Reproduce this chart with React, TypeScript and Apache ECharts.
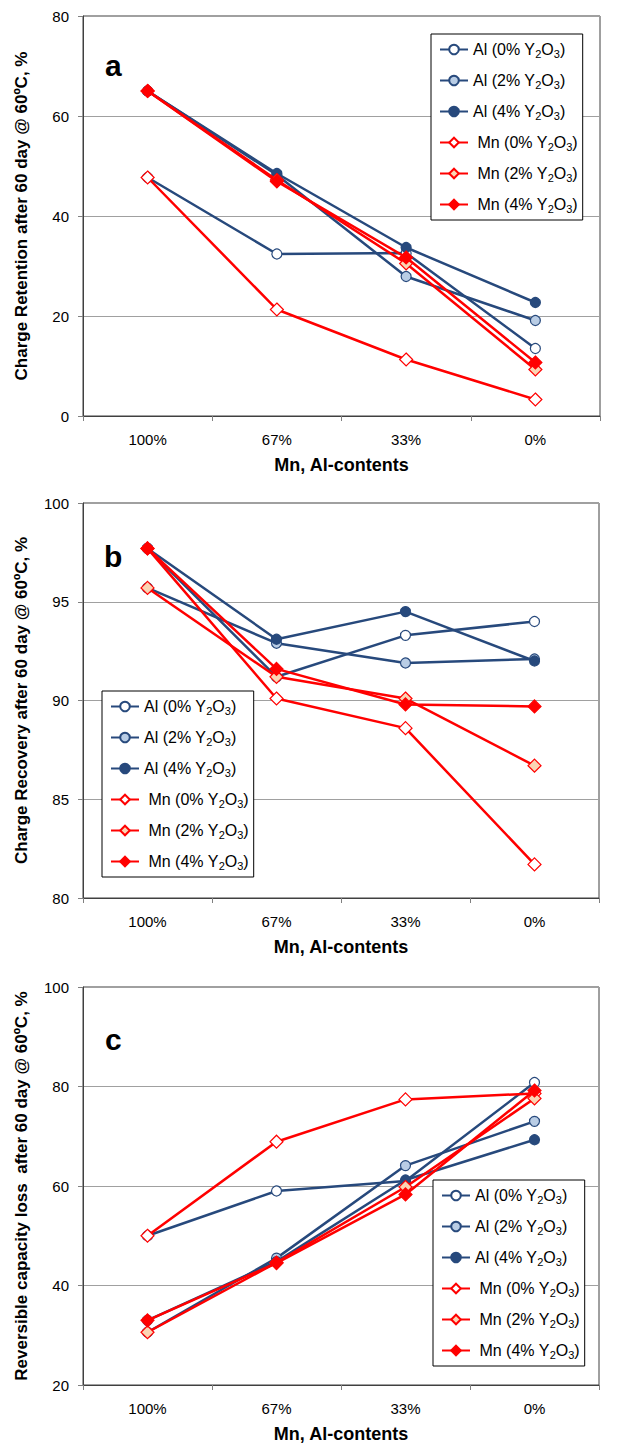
import React, { useEffect, useRef } from "react";
import * as echarts from "echarts";

const categories = ["100%", "67%", "33%", "0%"];
const seriesNames = [
  "Al (0% Y2O3)",
  "Al (2% Y2O3)",
  "Al (4% Y2O3)",
  "Mn (0% Y2O3)",
  "Mn (2% Y2O3)",
  "Mn (4% Y2O3)",
];

// Panel a: Charge retention
const retentionAl0 = [47.7, 32.4, 32.6, 13.5];
const retentionAl2 = [65, 48.2, 27.9, 19.1];
const retentionAl4 = [65, 48.5, 33.7, 22.7];
const retentionMn0 = [47.7, 21.3, 11.3, 3.3];
const retentionMn2 = [65, 47.2, 30.5, 9.3];
const retentionMn4 = [65, 46.9, 31.7, 10.7];

// Panel b: Charge recovery
const recoveryAl0 = [97.7, 91.2, 93.3, 94.0];
const recoveryAl2 = [95.7, 92.9, 91.9, 92.1];
const recoveryAl4 = [97.7, 93.1, 94.5, 92.0];
const recoveryMn0 = [97.7, 90.1, 88.6, 81.7];
const recoveryMn2 = [95.7, 91.2, 90.1, 86.7];
const recoveryMn4 = [97.7, 91.6, 89.8, 89.7];

// Panel c: Reversible capacity loss
const lossAl0 = [50, 59.0, 61.0, 80.8];
const lossAl2 = [30.6, 45.5, 64.1, 73.0];
const lossAl4 = [33, 44.8, 61.2, 69.3];
const lossMn0 = [50, 68.9, 77.4, 78.6];
const lossMn2 = [30.6, 44.6, 59.8, 77.6];
const lossMn4 = [33, 44.5, 58.3, 79.2];

const yTitles = [
  "Charge Retention after 60 day @ 60ºC, %",
  "Charge Recovery after 60 day @ 60ºC, %",
  "Reversible capacity loss  after 60 day @ 60ºC, %",
];
const xTitle = "Mn, Al-contents";
const panelLetters = ["a", "b", "c"];
const yRanges = [
  [0, 80, 20],
  [80, 100, 5],
  [20, 100, 20],
];

const BLUE = "#27497c";
const RED = "#ff0000";
const FONT = "Liberation Sans, Arial, sans-serif";

const styles = [
  { symbol: "circle", size: 10, fill: "#ffffff", line: BLUE },
  { symbol: "circle", size: 10, fill: "#b9cde5", line: BLUE },
  { symbol: "circle", size: 10, fill: BLUE, line: BLUE },
  { symbol: "diamond", size: 13, fill: "#ffffff", line: RED },
  { symbol: "diamond", size: 13, fill: "#fbd4b4", line: RED },
  { symbol: "diamond", size: 13, fill: RED, line: RED },
];

const panelData = [
  [retentionAl0, retentionAl2, retentionAl4, retentionMn0, retentionMn2, retentionMn4],
  [recoveryAl0, recoveryAl2, recoveryAl4, recoveryMn0, recoveryMn2, recoveryMn4],
  [lossAl0, lossAl2, lossAl4, lossMn0, lossMn2, lossMn4],
];

const grids = [
  { left: 83, top: 16, width: 517, height: 400 },
  { left: 83, top: 503, width: 516, height: 395 },
  { left: 83, top: 987, width: 516, height: 399 },
];

const legendPos = [
  { left: 431, top: 34 },
  { left: 102, top: 691 },
  { left: 433, top: 1180 },
];

const letterPos = [
  { x: 105, y: 50 },
  { x: 104, y: 541 },
  { x: 105, y: 1024 },
];

export default function App() {
  const ref = useRef<HTMLDivElement>(null);
  useEffect(() => {
    if (!ref.current) return;
    const chart = echarts.init(ref.current, undefined, { renderer: "svg" });

    const series: any[] = [];
    panelData.forEach((arrs, gi) => {
      arrs.forEach((data, si) => {
        const st = styles[si];
        series.push({
          type: "line",
          name: seriesNames[si],
          xAxisIndex: gi,
          yAxisIndex: gi,
          data,
          symbol: st.symbol,
          symbolSize: st.size,
          showAllSymbol: true,
          lineStyle: { color: st.line, width: 2.5 },
          itemStyle: { color: st.fill, borderColor: st.line, borderWidth: 1.2 },
          emphasis: { disabled: true },
          z: 2 + si,
        });
      });
    });

    const option: any = {
      animation: false,
      backgroundColor: "#ffffff",
      textStyle: { fontFamily: FONT },
      grid: grids.map((g) => ({
        ...g,
        show: true,
        borderColor: "#404040",
        borderWidth: 1,
        backgroundColor: "transparent",
      })),
      xAxis: grids.map((_, i) => ({
        type: "category",
        gridIndex: i,
        data: categories,
        boundaryGap: true,
        name: xTitle,
        nameLocation: "middle",
        nameGap: 40,
        nameTextStyle: { fontFamily: FONT, fontSize: 18, fontWeight: "bold", color: "#000" },
        axisLine: { lineStyle: { color: "#404040", width: 1 } },
        axisTick: { show: true, length: 5, inside: false, lineStyle: { color: "#808080" } },
        axisLabel: { fontFamily: FONT, fontSize: 15, color: "#000", margin: 16 },
        splitLine: { show: false },
      })),
      yAxis: yRanges.map((r, i) => ({
        type: "value",
        gridIndex: i,
        min: r[0],
        max: r[1],
        interval: r[2],
        name: yTitles[i],
        nameLocation: "middle",
        nameGap: 53,
        nameTextStyle: { fontFamily: FONT, fontSize: 17, fontWeight: "bold", color: "#000" },
        axisLine: { show: true, lineStyle: { color: "#404040", width: 1 } },
        axisTick: { show: true, length: 5, inside: false, lineStyle: { color: "#808080" } },
        axisLabel: { fontFamily: FONT, fontSize: 15, color: "#000", margin: 14 },
        splitLine: { show: true, lineStyle: { color: "#a0a0a0", width: 1 } },
      })),
      legend: legendPos.map((p) => ({
        ...p,
        orient: "vertical",
        data: seriesNames,
        backgroundColor: "#ffffff",
        borderColor: "#000000",
        borderWidth: 1,
        borderRadius: 0,
        padding: [6, 5, 6, 8],
        itemWidth: 28,
        itemHeight: 12,
        itemGap: 12,
        selectedMode: false,
        formatter: (name: string) => {
          const s = name.replace("Y2O3", "Y{sub|2}O{sub|3}");
          return name.startsWith("Mn") ? " " + s : s;
        },
        textStyle: {
          fontFamily: FONT,
          fontSize: 16,
          color: "#000",
          lineHeight: 19,
          rich: {
            sub: { fontFamily: FONT, fontSize: 11, color: "#000", verticalAlign: "bottom", lineHeight: 15 },
          },
        },
      })),
      graphic: panelLetters.map((t, i) => ({
        type: "text",
        x: letterPos[i].x,
        y: letterPos[i].y,
        z: 100,
        style: {
          text: t,
          fontFamily: FONT,
          fontSize: 30,
          fontWeight: "bold",
          fill: "#000",
          textVerticalAlign: "alphabetic",
          verticalAlign: "alphabetic",
        },
      })),
      series,
    };

    chart.setOption(option);
    return () => chart.dispose();
  }, []);

  return (
    <div
      ref={ref}
      style={{ position: "absolute", left: 0, top: 0, width: 638, height: 1444 }}
    />
  );
}
